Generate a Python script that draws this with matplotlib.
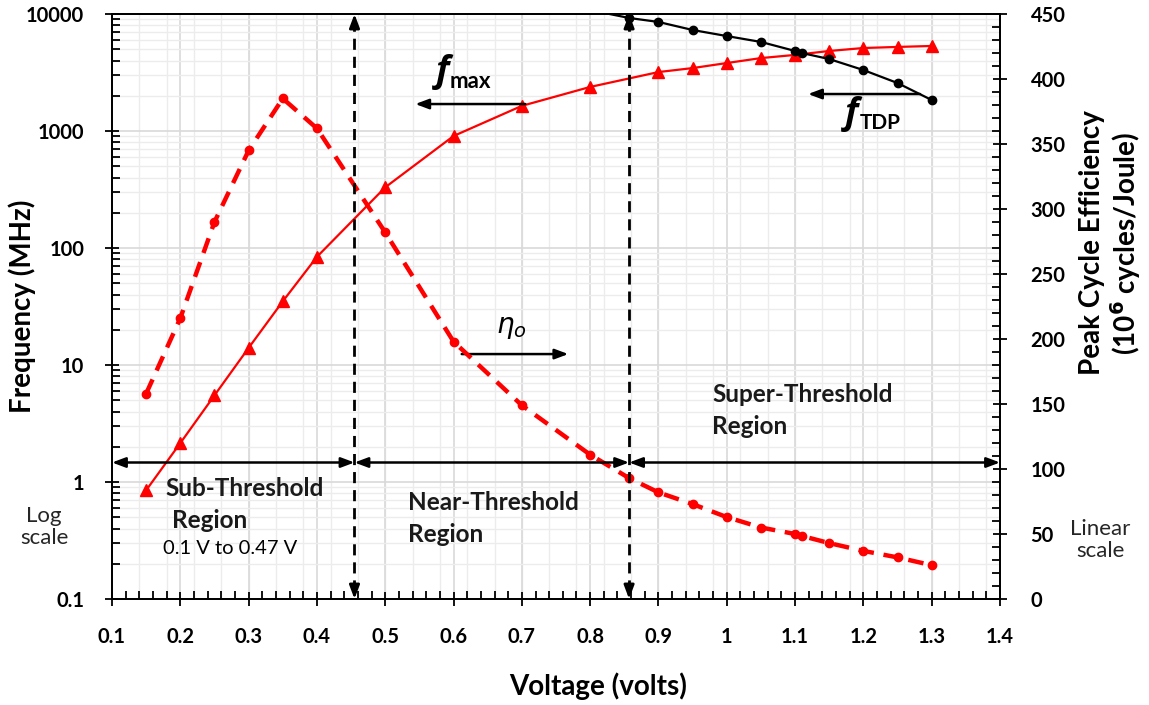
import numpy as np
import matplotlib
matplotlib.use("Agg")
import matplotlib.pyplot as plt
from matplotlib.ticker import FixedLocator, MultipleLocator, NullFormatter, LogLocator

plt.rcParams['font.family'] = ['Lato', 'DejaVu Sans']

# f_max curve (MHz, log axis)
volts_fmax = [0.15, 0.2, 0.25, 0.3, 0.35, 0.4, 0.5, 0.6, 0.7, 0.8, 0.9, 0.95,
              1.0, 1.05, 1.1, 1.15, 1.2, 1.25, 1.3]
fmax_mhz = [0.85, 2.15, 5.5, 14, 35, 84, 330, 906, 1640, 2380, 3190, 3450,
            3810, 4200, 4470, 4830, 5120, 5230, 5330]

# f_TDP curve (MHz, log axis); first point lies above the plot top
volts_tdp = [0.8, 0.857, 0.9, 0.95, 1.0, 1.05, 1.1, 1.11, 1.15, 1.2, 1.25, 1.3]
ftdp_mhz = [10800, 9250, 8550, 7300, 6480, 5770, 4830, 4640, 4120, 3320, 2570, 1840]

# peak cycle efficiency (1e6 cycles/J, linear right axis)
volts_eff = [0.15, 0.2, 0.25, 0.3, 0.35, 0.4, 0.5, 0.6, 0.7, 0.8, 0.857, 0.9,
             0.95, 1.0, 1.05, 1.1, 1.11, 1.15, 1.2, 1.25, 1.3]
eff = [158, 216, 290, 345, 385, 362, 282, 198, 149, 111, 93, 82,
       73, 63, 55, 50, 48.5, 43, 37, 32, 26]

x_ticks = [0.1, 0.2, 0.3, 0.4, 0.5, 0.6, 0.7, 0.8, 0.9, 1.0, 1.1, 1.2, 1.3, 1.4]
x_labels = ['0.1', '0.2', '0.3', '0.4', '0.5', '0.6', '0.7', '0.8', '0.9', '1',
            '1.1', '1.2', '1.3', '1.4']
left_ticks = [0.1, 1, 10, 100, 1000, 10000]
left_labels = ['0.1', '1', '10', '100', '1000', '10000']
right_ticks = [0, 50, 100, 150, 200, 250, 300, 350, 400, 450]

sub_edge = 0.455
super_edge = 0.857
region_y = 105  # on right axis

W, H = 1149, 705
fig = plt.figure(figsize=(W / 100, H / 100), dpi=100)
ax = fig.add_axes([112 / W, 1 - 599 / H, 888 / W, 585 / H])
ax2 = ax.twinx()

ax.set_xlim(0.1, 1.4)
ax.set_yscale('log')
ax.set_ylim(0.1, 10000)
ax2.set_ylim(0, 450)

# grid
for v in np.arange(0.14, 1.399, 0.04):
    ax.axvline(v, color='#ececec', lw=1, zorder=0)
for v in x_ticks[1:-1]:
    ax.axvline(v, color='#d9d9d9', lw=1.2, zorder=0.5)
ax.yaxis.set_minor_locator(LogLocator(base=10, subs=np.arange(2, 10)))
ax.yaxis.set_minor_formatter(NullFormatter())
ax.grid(axis='y', which='minor', color='#ececec', lw=1, zorder=0)
ax.grid(axis='y', which='major', color='#d9d9d9', lw=1.2, zorder=0.5)
ax.set_axisbelow(True)

# ticks
ax.xaxis.set_major_locator(FixedLocator(x_ticks))
ax.set_xticklabels(x_labels)
ax.xaxis.set_minor_locator(MultipleLocator(0.02))
ax.yaxis.set_major_locator(FixedLocator(left_ticks))
ax.set_yticklabels(left_labels)
ax2.yaxis.set_major_locator(FixedLocator(right_ticks))
ax2.yaxis.set_minor_locator(MultipleLocator(10))

for lab in ax.get_xticklabels() + ax.get_yticklabels() + ax2.get_yticklabels():
    lab.set_fontsize(14.5)
    lab.set_fontweight('bold')

ax.tick_params(axis='x', which='major', direction='inout', length=10, width=1.3, pad=15, top=False)
ax.tick_params(axis='x', which='minor', direction='in', length=6, width=1.3, top=False)
ax.tick_params(axis='y', which='major', direction='inout', length=10, width=1.3, pad=15)
ax.tick_params(axis='y', which='minor', direction='in', length=6, width=1.3)
ax2.tick_params(axis='y', which='major', direction='inout', length=10, width=1.3, pad=17)
ax2.tick_params(axis='y', which='minor', direction='in', length=6, width=1.3)
for sp in ax.spines.values():
    sp.set_linewidth(1.3)
for sp in ax2.spines.values():
    sp.set_linewidth(1.3)

# curves
ax.plot(volts_fmax, fmax_mhz, color='#ff0000', lw=1.6, marker='^', ms=8,
        zorder=3, clip_on=False)
ax.plot(volts_tdp, ftdp_mhz, color='black', lw=1.6, marker='o', ms=6,
        markevery=list(range(1, len(volts_tdp))), zorder=3)
ax2.plot(volts_eff, eff, color='#ff0000', lw=3.2, ls=(0, (3.5, 2.2)), marker='o',
         ms=6, zorder=3)

# region boundaries
head = '-|>,head_length=0.8,head_width=0.3'
for xv in (sub_edge, super_edge):
    ax2.plot([xv, xv], [6, 444], color='black', lw=2, ls=(0, (4, 2.5)), zorder=4)
    ax2.annotate('', xy=(xv, 450), xytext=(xv, 438),
                 arrowprops=dict(arrowstyle=head, color='black', lw=2, shrinkA=0, shrinkB=0))
    ax2.annotate('', xy=(xv, 0), xytext=(xv, 12),
                 arrowprops=dict(arrowstyle=head, color='black', lw=2, shrinkA=0, shrinkB=0))
for x0, x1 in ((0.1, sub_edge), (sub_edge, super_edge), (super_edge, 1.4)):
    ax2.annotate('', xy=(x1, region_y), xytext=(x0, region_y),
                 arrowprops=dict(arrowstyle='<|-|>,head_length=0.8,head_width=0.3',
                                 color='black', lw=1.8, shrinkA=0, shrinkB=0))

# curve labels with arrows
arrow_kw = dict(arrowstyle=head, color='black', lw=1.8, shrinkA=0, shrinkB=0)
ax.annotate('', xy=(0.544, 1700), xytext=(0.705, 1700), arrowprops=arrow_kw)
ax.annotate('', xy=(1.119, 2070), xytext=(1.283, 2070), arrowprops=arrow_kw)
ax.annotate('', xy=(0.768, 12.4), xytext=(0.612, 12.4), arrowprops=arrow_kw)


def px(x, y):
    return x / W, 1 - y / H


fig.text(*px(443, 72), 'f', fontsize=26, fontweight='bold', style='italic',
         ha='center', va='center', family=['Open Sans', 'DejaVu Sans'])
fig.text(*px(450, 81), 'max', fontsize=16, fontweight='bold', ha='left', va='center')
fig.text(*px(852, 114), 'f', fontsize=26, fontweight='bold', style='italic',
         ha='center', va='center', family=['Open Sans', 'DejaVu Sans'])
fig.text(*px(860, 123), 'TDP', fontsize=15, fontweight='bold', ha='left', va='center')
fig.text(*px(511, 328), r'$\eta_o$', fontsize=20, ha='center', va='center')

region_font = dict(fontsize=17.5, fontweight='bold', ha='left', va='center', color='#1a1a1a')
fig.text(*px(165, 489), 'Sub-Threshold', **region_font)
fig.text(*px(172, 520), 'Region', **region_font)
fig.text(*px(163, 549), '0.1 V to 0.47 V', fontsize=14.5, ha='left', va='center')
fig.text(*px(408, 502), 'Near-Threshold', **region_font)
fig.text(*px(408, 535), 'Region', **region_font)
fig.text(*px(712, 394), 'Super-Threshold', **region_font)
fig.text(*px(712, 426), 'Region', **region_font)

fig.text(*px(44, 527), 'Log\nscale', fontsize=16, ha='center', va='center',
         linespacing=1.15, color='#262626')
fig.text(*px(1100, 540), 'Linear\nscale', fontsize=16, ha='center', va='center',
         linespacing=1.15, color='#262626')

# axis titles
fig.text(*px(22, 306), 'Frequency (MHz)', fontsize=20, fontweight='bold',
         rotation=90, ha='center', va='center')
fig.text(*px(1111, 243), 'Peak Cycle Efficiency\n(10$^{\\mathbf{6}}$ cycles/Joule)',
         fontsize=20, fontweight='bold', rotation=90, ha='center', va='center',
         linespacing=1.1)
fig.text(*px(598, 686), 'Voltage (volts)', fontsize=20, fontweight='bold',
         ha='center', va='center')

fig.savefig('out.png', dpi=100)
